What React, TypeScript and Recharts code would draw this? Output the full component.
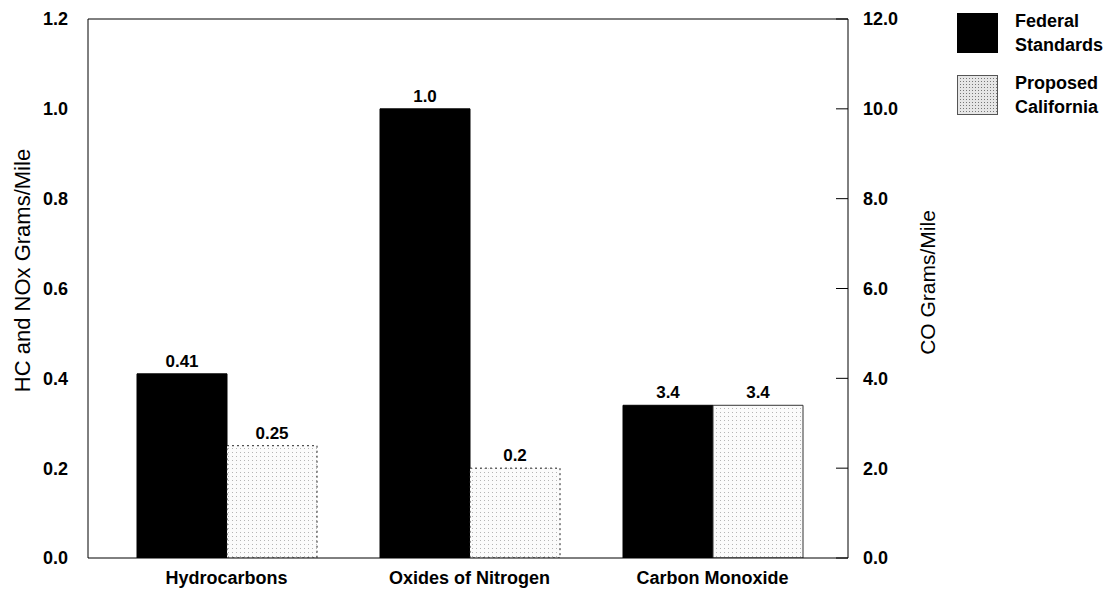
import React from 'react';
import { BarChart, Bar, XAxis, YAxis, ReferenceLine, LabelList, Legend, Label } from 'recharts';

const categories = ['Hydrocarbons', 'Oxides of Nitrogen', 'Carbon Monoxide'];
const federalStandards = [0.41, 1.0, 3.4];
const proposedCalifornia = [0.25, 0.2, 3.4];
const valueAxis = ['left', 'left', 'right'];
const leftTicks = [0, 0.2, 0.4, 0.6, 0.8, 1.0, 1.2];
const rightTicks = [0, 2, 4, 6, 8, 10, 12];

const data = categories.map((name, i) => ({
  name,
  fedLeft: valueAxis[i] === 'left' ? federalStandards[i] : null,
  propLeft: valueAxis[i] === 'left' ? proposedCalifornia[i] : null,
  fedRight: valueAxis[i] === 'right' ? federalStandards[i] : null,
  propRight: valueAxis[i] === 'right' ? proposedCalifornia[i] : null,
}));

const FONT = '"Liberation Sans", Arial, Helvetica, sans-serif';

const fmtValue = (v: any) => {
  if (v == null) return '';
  const n = Number(v);
  if (!isFinite(n) || n === 0) return '';
  return Number.isInteger(n) ? n.toFixed(1) : String(n);
};

const LeftTitle = (props: any) => {
  const vb = props.viewBox || {};
  const x = vb.x + 22;
  const y = vb.y + vb.height / 2 - 18;
  return (
    <text x={x} y={y} transform={`rotate(-90, ${x}, ${y})`} textAnchor="middle" dominantBaseline="central"
      fontSize={22} fill="#000" fontFamily={FONT}>HC and NOx Grams/Mile</text>
  );
};

const RightTitle = (props: any) => {
  const vb = props.viewBox || {};
  const x = vb.x + 79;
  const y = vb.y + vb.height / 2 - 6;
  return (
    <text x={x} y={y} transform={`rotate(-90, ${x}, ${y})`} textAnchor="middle" dominantBaseline="central"
      fontSize={21} fill="#000" fontFamily={FONT}>CO Grams/Mile</text>
  );
};

const LegendContent = () => {
  const items = [
    { lines: ['Federal', 'Standards'], fill: '#000', stroke: '#000' },
    { lines: ['Proposed', 'California'], fill: 'url(#legendStipple)', stroke: '#555' },
  ];
  return (
    <div style={{ fontFamily: FONT }}>
      {items.map((it, i) => (
        <div key={i} style={{ display: 'flex', alignItems: 'center', height: 40, marginBottom: i === 0 ? 22 : 0 }}>
          <svg width={42} height={40} style={{ display: 'block' }}>
            <defs>
              <pattern id="legendStipple" width="3" height="3" patternUnits="userSpaceOnUse">
                <rect width="3" height="3" fill="#e6e6e6" />
                <rect x="0" y="0" width="1" height="1" fill="#777" />
              </pattern>
            </defs>
            <rect x={0.5} y={0.5} width={40} height={39} fill={it.fill} stroke={it.stroke} strokeWidth={1} />
          </svg>
          <div style={{ marginLeft: 16, fontSize: 18, fontWeight: 'bold', lineHeight: '24px', color: '#000' }}>
            <div>{it.lines[0]}</div>
            <div>{it.lines[1]}</div>
          </div>
        </div>
      ))}
    </div>
  );
};

export default function App() {
  return (
    <div style={{ position: 'absolute', left: 0, top: 0, width: 1109, height: 592, background: '#fff', fontFamily: FONT }}>
      <BarChart width={1109} height={592} data={data} margin={{ top: 19, right: 0, bottom: 0, left: 0 }}
        barGap={0} barSize={90}>
        <defs>
          <pattern id="stipple" width="4" height="4" patternUnits="userSpaceOnUse">
            <rect width="4" height="4" fill="#fbfbfb" />
            <rect x="0" y="0" width="1" height="1" fill="#b5b5b5" />
          </pattern>
        </defs>
        <XAxis dataKey="name" xAxisId={0} height={34} padding={{ left: 17, right: 14 }} tickLine={false}
          axisLine={{ stroke: '#000' }} tickMargin={7}
          tick={{ fill: '#000', fontSize: 18, fontWeight: 'bold' }} />
        <YAxis yAxisId="left" orientation="left" width={88} domain={[0, 1.2]} ticks={leftTicks}
          tickFormatter={(v: number) => v.toFixed(1)} tickLine={false} tickMargin={14}
          axisLine={{ stroke: '#000' }} tick={{ fill: '#000', fontSize: 18, fontWeight: 'bold' }} allowDataOverflow>
          <Label content={<LeftTitle />} />
        </YAxis>
        <YAxis yAxisId="right" orientation="right" width={261} domain={[0, 12]} ticks={rightTicks}
          tickFormatter={(v: number) => v.toFixed(1)} tickSize={-12} tickMargin={27}
          tickLine={{ stroke: '#000' }} axisLine={{ stroke: '#000' }}
          tick={{ fill: '#000', fontSize: 18, fontWeight: 'bold' }} allowDataOverflow>
          <Label content={<RightTitle />} />
        </YAxis>
        <ReferenceLine yAxisId="left" y={1.2} stroke="#000" />
        <Bar dataKey="fedLeft" yAxisId="left" stackId="fed" fill="#000" stroke="#000" isAnimationActive={false}>
          <LabelList dataKey="fedLeft" position="top" offset={7} formatter={fmtValue}
            style={{ fill: '#000', fontSize: 17, fontWeight: 'bold' }} />
        </Bar>
        <Bar dataKey="propLeft" yAxisId="left" stackId="prop" fill="url(#stipple)" stroke="#222" strokeDasharray="2 3"
          isAnimationActive={false}>
          <LabelList dataKey="propLeft" position="top" offset={7} formatter={fmtValue}
            style={{ fill: '#000', fontSize: 17, fontWeight: 'bold' }} />
        </Bar>
        <Bar dataKey="fedRight" yAxisId="right" stackId="fed" fill="#000" stroke="#000" isAnimationActive={false}>
          <LabelList dataKey="fedRight" position="top" offset={7} formatter={fmtValue}
            style={{ fill: '#000', fontSize: 17, fontWeight: 'bold' }} />
        </Bar>
        <Bar dataKey="propRight" yAxisId="right" stackId="prop" fill="url(#stipple)" stroke="#333"
          isAnimationActive={false}>
          <LabelList dataKey="propRight" position="top" offset={7} formatter={fmtValue}
            style={{ fill: '#000', fontSize: 17, fontWeight: 'bold' }} />
        </Bar>
        <Legend layout="vertical" align="center" verticalAlign="middle" content={<LegendContent />}
          wrapperStyle={{ position: 'absolute', top: 13, left: 957, width: 152, height: 110 }} />
      </BarChart>
    </div>
  );
}
